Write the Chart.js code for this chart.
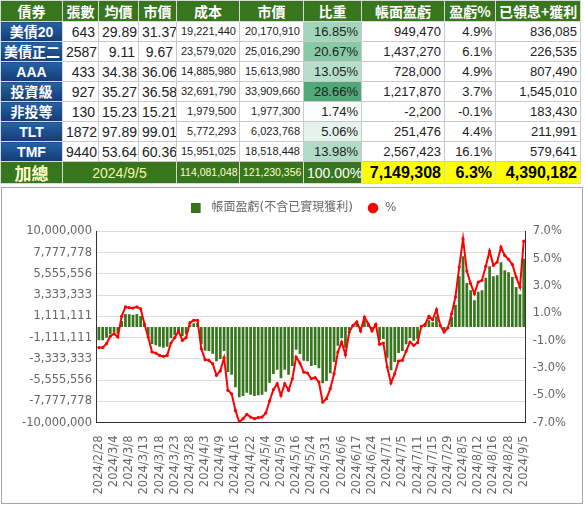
<!DOCTYPE html>
<html>
<head>
<meta charset="utf-8">
<script src="https://cdn.jsdelivr.net/npm/chart.js@4.4.1/dist/chart.umd.min.js"></script>
<style>
  html,body{margin:0;padding:0;}
  body{width:585px;height:506px;background:#fff;position:relative;overflow:hidden;
       font-family:"Liberation Sans",Arial,"Noto Sans CJK TC",sans-serif;}
  #tbl{position:absolute;left:0;top:0;border-collapse:collapse;table-layout:fixed;width:580px;}
  #tbl td{border:1px solid #c9c9c9;padding:0 3px;white-space:nowrap;overflow:hidden;line-height:1;}
  #tbl tr.h td{background:#38761d;color:#fff;font-weight:bold;font-size:14px;text-align:center;height:20px;
       font-family:"Noto Sans CJK TC","Liberation Sans",sans-serif;border-color:#d8d8d8;}
  #tbl tr.d td{height:19px;font-size:14px;text-align:right;color:#222;}
  #tbl tr.d td.n{background:linear-gradient(#2562a6,#143c74);color:#fff;font-weight:bold;text-align:center;
       font-family:"Liberation Sans","Noto Sans CJK TC",sans-serif;font-size:14px;border-color:#d8d8d8;}
  #tbl tr.d td.s{font-size:11px;}
  #tbl tr.d td.m{font-size:13px;}
  #tbl tr.t td{height:21px;background:#38761d;color:#ffffcc;text-align:center;border-color:#d8d8d8;}
  #tbl tr.t td.k{font-size:17px;font-weight:bold;font-family:"Noto Sans CJK TC",sans-serif;}
  #tbl tr.t td.dt{font-size:14px;color:#f4f4a8;}
  #tbl tr.t td.s{font-size:10.5px;text-align:right;}
  #tbl tr.t td.w{color:#fff;font-size:14px;text-align:right;}
  #tbl tr.t td.y{background:#ffff00;color:#000;font-weight:bold;font-size:16px;text-align:right;}
  #box{position:absolute;left:1px;top:187px;width:580px;height:315px;border:1px solid #a6a6a6;}
</style>
</head>
<body>
<table id="tbl">
  <colgroup>
    <col style="width:62px"><col style="width:36px"><col style="width:40px"><col style="width:38px">
    <col style="width:63px"><col style="width:64px"><col style="width:58px"><col style="width:83px">
    <col style="width:51px"><col style="width:85px">
  </colgroup>
  <tr class="h"><td>債券</td><td>張數</td><td>均價</td><td>市價</td><td>成本</td><td>市價</td><td>比重</td><td>帳面盈虧</td><td>盈虧%</td><td>已領息+獲利</td></tr>
  <tr class="d"><td class="n">美債20</td><td>643</td><td>29.89</td><td>31.37</td><td class="s">19,221,440</td><td class="s">20,170,910</td><td class="m" style="background:#a2d6bb">16.85%</td><td class="m">949,470</td><td class="m">4.9%</td><td class="m">836,085</td></tr>
  <tr class="d"><td class="n">美債正二</td><td>2587</td><td>9.11</td><td>9.67</td><td class="s">23,579,020</td><td class="s">25,016,290</td><td class="m" style="background:#88c9a6">20.67%</td><td class="m">1,437,270</td><td class="m">6.1%</td><td class="m">226,535</td></tr>
  <tr class="d"><td class="n">AAA</td><td>433</td><td>34.38</td><td>36.06</td><td class="s">14,885,980</td><td class="s">15,613,980</td><td class="m" style="background:#b6dfca">13.05%</td><td class="m">728,000</td><td class="m">4.9%</td><td class="m">807,490</td></tr>
  <tr class="d"><td class="n">投資級</td><td>927</td><td>35.27</td><td>36.58</td><td class="s">32,691,790</td><td class="s">33,909,660</td><td class="m" style="background:#52a877">28.66%</td><td class="m">1,217,870</td><td class="m">3.7%</td><td class="m">1,545,010</td></tr>
  <tr class="d"><td class="n">非投等</td><td>130</td><td>15.23</td><td>15.21</td><td class="s">1,979,500</td><td class="s">1,977,300</td><td class="m" style="background:#fbfdfc">1.74%</td><td class="m">-2,200</td><td class="m">-0.1%</td><td class="m">183,430</td></tr>
  <tr class="d"><td class="n">TLT</td><td>1872</td><td>97.89</td><td>99.01</td><td class="s">5,772,293</td><td class="s">6,023,768</td><td class="m" style="background:#e4f3eb">5.06%</td><td class="m">251,476</td><td class="m">4.4%</td><td class="m">211,991</td></tr>
  <tr class="d"><td class="n">TMF</td><td>9440</td><td>53.64</td><td>60.36</td><td class="s">15,951,025</td><td class="s">18,518,448</td><td class="m" style="background:#b0dcc5">13.98%</td><td class="m">2,567,423</td><td class="m">16.1%</td><td class="m">579,641</td></tr>
  <tr class="t"><td class="k">加總</td><td class="dt" colspan="3">2024/9/5</td><td class="s">114,081,048</td><td class="s">121,230,356</td><td class="w">100.00%</td><td class="y">7,149,308</td><td class="y">6.3%</td><td class="y">4,390,182</td></tr>
</table>

<div id="box"><canvas id="c"></canvas></div>

<script>
const dates = [
  '2024/2/28','2024/2/29','2024/3/1','2024/3/2','2024/3/4','2024/3/5','2024/3/6','2024/3/7',
  '2024/3/8','2024/3/9','2024/3/11','2024/3/12','2024/3/13','2024/3/14','2024/3/15','2024/3/16',
  '2024/3/18','2024/3/19','2024/3/20','2024/3/21','2024/3/23','2024/3/25','2024/3/26','2024/3/27',
  '2024/3/28','2024/3/29','2024/4/1','2024/4/2','2024/4/3','2024/4/5','2024/4/6','2024/4/8',
  '2024/4/9','2024/4/11','2024/4/12','2024/4/15','2024/4/16','2024/4/17','2024/4/18','2024/4/19',
  '2024/4/22','2024/4/25','2024/4/29','2024/5/2','2024/5/4','2024/5/6','2024/5/7','2024/5/8',
  '2024/5/9','2024/5/13','2024/5/14','2024/5/15','2024/5/16','2024/5/20','2024/5/21','2024/5/22',
  '2024/5/24','2024/5/27','2024/5/29','2024/5/30','2024/5/31','2024/6/3','2024/6/4','2024/6/5',
  '2024/6/6','2024/6/11','2024/6/13','2024/6/14','2024/6/17','2024/6/19','2024/6/20','2024/6/21',
  '2024/6/24','2024/6/26','2024/6/27','2024/6/28','2024/7/1','2024/7/2','2024/7/3','2024/7/4',
  '2024/7/5','2024/7/8','2024/7/9','2024/7/10','2024/7/11','2024/7/12','2024/7/13','2024/7/14',
  '2024/7/15','2024/7/19','2024/7/23','2024/7/26','2024/7/29','2024/7/31','2024/8/1','2024/8/2',
  '2024/8/5','2024/8/6','2024/8/8','2024/8/9','2024/8/12','2024/8/13','2024/8/14','2024/8/15',
  '2024/8/16','2024/8/20','2024/8/22','2024/8/26','2024/8/28','2024/8/30','2024/9/2','2024/9/4',
  '2024/9/5'
];

const shownDates = [
  '2024/2/28','2024/3/4','2024/3/8','2024/3/13','2024/3/18','2024/3/23','2024/3/28','2024/4/3',
  '2024/4/9','2024/4/16','2024/4/22','2024/5/4','2024/5/9','2024/5/16','2024/5/24','2024/5/31',
  '2024/6/6','2024/6/17','2024/6/24','2024/7/1','2024/7/5','2024/7/11','2024/7/15','2024/7/29',
  '2024/8/5','2024/8/12','2024/8/16','2024/8/28','2024/9/5'
];

// 帳面盈虧(不含已實現獲利)
const profit = [
  -1396000,-1380000,-1117000,-768000,-524000,-698000,628000,1361000,
  1326000,1291000,1361000,1152000,209000,-907000,-1780000,-1920000,
  -2059000,-2164000,-2059000,-1187000,-873000,-419000,-977000,-768000,
  209000,384000,384000,-1815000,-2478000,-2513000,-2792000,-3595000,
  -3351000,-2513000,-4712000,-4991000,-6318000,-7365000,-7225000,-6876000,
  -7086000,-7225000,-7155000,-7086000,-6771000,-5829000,-4921000,-4468000,
  -5375000,-4468000,-4991000,-4084000,-2373000,-2827000,-3525000,-3595000,
  -4084000,-3979000,-4328000,-5899000,-5654000,-4852000,-3665000,-1955000,
  -1187000,-2164000,-384000,140000,384000,-314000,803000,279000,
  -314000,209000,-1361000,-1257000,-3211000,-4538000,-3665000,-2723000,
  -2513000,-1815000,-1152000,-1431000,-1222000,70000,209000,698000,
  489000,1117000,70000,-349000,-70000,1047000,2339000,5305000,
  7400000,4607000,3839000,2792000,3700000,3839000,5166000,6353000,
  5305000,5410000,6771000,5934000,5724000,5236000,4188000,3421000,
  7149308
];

// %
const pct = [
  -1.51,-1.51,-1.22,-0.68,-0.49,-0.73,0.78,1.47,
  1.42,1.39,1.47,1.34,0.24,-0.73,-1.83,-1.91,
  -2.08,-2.15,-2.08,-1.17,-0.78,-0.29,-0.98,-0.78,
  0.32,0.49,0.49,-1.59,-2.39,-2.44,-2.69,-3.54,
  -3.22,-2.25,-4.64,-4.89,-6.11,-6.96,-6.72,-6.40,
  -6.60,-6.72,-6.64,-6.60,-6.30,-5.42,-4.59,-4.15,
  -5.01,-4.15,-4.64,-3.79,-2.20,-2.64,-3.30,-3.37,
  -3.79,-3.71,-4.03,-5.50,-5.25,-4.52,-3.42,-1.83,
  -1.10,-2.03,-0.37,0.12,0.37,-0.29,0.73,0.24,
  -0.29,0.20,-1.27,-1.17,-2.93,-4.10,-3.42,-2.49,
  -2.44,-1.76,-1.10,-1.34,-1.15,0.05,0.20,0.78,
  0.54,1.27,0.12,-0.37,-0.07,0.98,2.20,4.40,
  6.47,4.10,3.18,2.44,3.30,3.42,4.45,5.57,
  4.52,4.76,5.86,5.25,4.96,4.59,3.66,2.93,
  6.30
];

const GREEN = '#38761d';
const RED = '#ff0000';
const FONT = "'DejaVu Sans','Noto Sans CJK TC',sans-serif";

// legend marker for the bar series: a 10px square (transparent right margin shifts it left)
const greenBox = document.createElement('canvas');
greenBox.width = 18; greenBox.height = 10;
const gctx = greenBox.getContext('2d');
gctx.fillStyle = GREEN; gctx.fillRect(0, 0, 10, 10);

const legendGap = {
  id: 'legendGap',
  beforeInit(chart) {
    const orig = chart.legend.fit;
    chart.legend.fit = function () { orig.call(this); this.height += 7.5; };
  }
};

const tickFont = { family: FONT, size: 11.5 };

new Chart(document.getElementById('c'), {
  data: {
    labels: dates,
    datasets: [
      {
        type: 'line', label: '%', data: pct, yAxisID: 'y1',
        borderColor: RED, backgroundColor: RED, borderWidth: 2,
        pointRadius: 1.6, pointBackgroundColor: RED, pointBorderColor: RED, pointBorderWidth: 0,
        pointStyle: 'circle', tension: 0, fill: false
      },
      {
        type: 'bar', label: '帳面盈虧(不含已實現獲利)', data: profit, yAxisID: 'y',
        backgroundColor: GREEN, borderWidth: 0, pointStyle: greenBox
      }
    ]
  },
  options: {
    animation: false, responsive: true, maintainAspectRatio: false,
    layout: { padding: { left: 15, right: 9, top: 0, bottom: 3.5 } },
    plugins: {
      legend: {
        reverse: true,
        labels: { usePointStyle: true, boxHeight: 7.5, padding: 14, color: '#666', font: { family: FONT, size: 12 } }
      },
      tooltip: { enabled: false }
    },
    scales: {
      x: {
        grid: { display: false },
        border: { display: true, color: '#333' },
        ticks: {
          autoSkip: false, minRotation: 90, maxRotation: 90, padding: 5, color: '#666', font: tickFont,
          callback: (v, i) => shownDates.includes(dates[i]) ? dates[i] : ''
        }
      },
      y: {
        position: 'left', min: -10000000, max: 10000000,
        grid: { color: '#dcdcdc', drawTicks: false },
        border: { display: true, color: '#333' },
        ticks: { count: 10, padding: 5, color: '#666', font: tickFont,
                 callback: v => Math.round(v).toLocaleString('en-US') }
      },
      y1: {
        position: 'right', min: -7, max: 7,
        grid: { drawOnChartArea: false, drawTicks: false },
        border: { display: true, color: '#333' },
        ticks: { stepSize: 2, padding: 7, color: '#666', font: tickFont,
                 callback: v => v.toFixed(1) + '%' }
      }
    }
  },
  plugins: [legendGap]
});
</script>
</body>
</html>
